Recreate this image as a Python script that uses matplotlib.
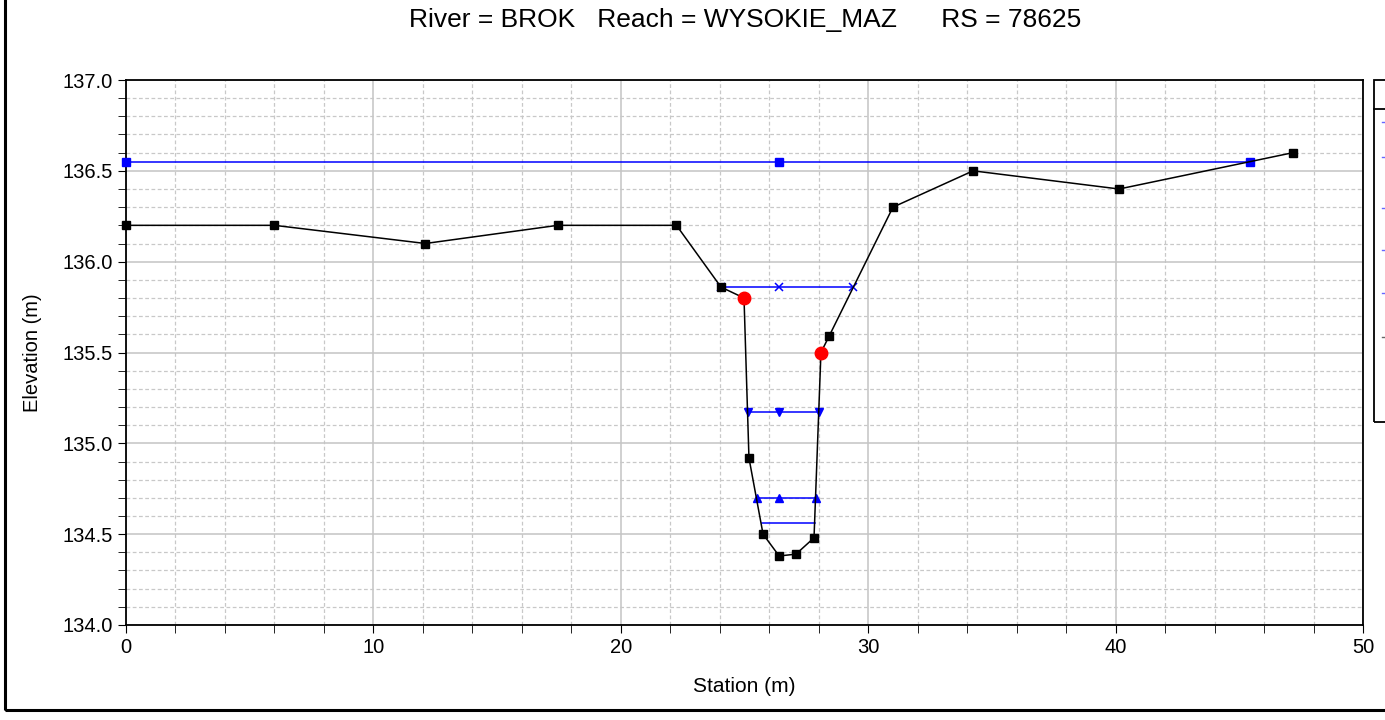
import matplotlib
matplotlib.use("Agg")
import matplotlib.pyplot as plt
from matplotlib.ticker import MultipleLocator, FormatStrFormatter
from matplotlib.patches import Rectangle
from matplotlib.lines import Line2D

plt.rcParams['font.family'] = ['Liberation Sans', 'DejaVu Sans']

# ground profile (station, elevation)
ground_x = [0.0, 6.0, 12.1, 17.45, 22.25, 24.05, 24.98, 25.18, 25.75, 26.4, 27.08, 27.81,
            28.09, 28.42, 31.0, 34.24, 40.14, 47.17]
ground_y = [136.20, 136.20, 136.10, 136.20, 136.20, 135.86, 135.80, 134.92, 134.50, 134.38,
            134.39, 134.48, 135.50, 135.59, 136.30, 136.50, 136.40, 136.60]

# bank stations
bank_x = [24.98, 28.09]
bank_y = [135.80, 135.50]

# water surfaces
ws1_x = [0.0, 26.4, 45.43]
ws1_y = [136.55, 136.55, 136.55]
ws2_x = [24.05, 26.4, 29.39]
ws2_y = [135.86, 135.86, 135.86]
ws3_x = [25.14, 26.4, 28.01]
ws3_y = [135.17, 135.17, 135.17]
ws4_x = [25.5, 26.4, 27.89]
ws4_y = [134.70, 134.70, 134.70]
ws5_x = [25.7, 27.85]
ws5_y = [134.56, 134.56]

title = "River = BROK   Reach = WYSOKIE_MAZ      RS = 78625"

W, H = 1385, 720
fig = plt.figure(figsize=(W / 100, H / 100), dpi=100)

# outer frame
fig.patches.append(Rectangle((5 / W, 10 / H), 1.2, 1.2, transform=fig.transFigure,
                             fill=False, edgecolor='black', linewidth=2.2))

ax = fig.add_axes([126 / W, 95 / H, 1237 / W, 545 / H])

blue = '#0000ff'
ax.plot(ws1_x, ws1_y, color=blue, lw=1.1, marker='s', ms=6, zorder=3, clip_on=False)
ax.plot(ws2_x, ws2_y, color=blue, lw=1.1, marker='x', ms=6, mew=1.1, zorder=3)
ax.plot(ws3_x, ws3_y, color=blue, lw=1.1, marker='v', ms=6, zorder=3)
ax.plot(ws4_x, ws4_y, color=blue, lw=1.1, marker='^', ms=6, zorder=3)
ax.plot(ws5_x, ws5_y, color=blue, lw=1.1, zorder=3)
ax.plot(ground_x, ground_y, color='black', lw=1.1, zorder=4)
ax.plot(ground_x[:6] + ground_x[7:12] + ground_x[13:], ground_y[:6] + ground_y[7:12] + ground_y[13:],
        ls='none', marker='s', ms=6, color='black', zorder=4, clip_on=False)
ax.plot(bank_x, bank_y, ls='none', marker='o', ms=9, color='#ff0000', zorder=5)

ax.set_xlim(0, 50)
ax.set_ylim(134.0, 137.0)
ax.xaxis.set_major_locator(MultipleLocator(10))
ax.xaxis.set_minor_locator(MultipleLocator(2))
ax.yaxis.set_major_locator(MultipleLocator(0.5))
ax.yaxis.set_minor_locator(MultipleLocator(0.1))
ax.yaxis.set_major_formatter(FormatStrFormatter('%.1f'))
ax.grid(which='major', color='#c4c4c4', lw=1.1, ls='-')
ax.grid(which='minor', color='#c8c8c8', lw=0.9, ls=(0, (3, 2)))
ax.set_axisbelow(True)
ax.tick_params(which='both', direction='out', labelsize=14.5, color='black', length=6)
for s in ax.spines.values():
    s.set_linewidth(1.3)

ax.set_xlabel('Station (m)', fontsize=15, labelpad=14)
ax.set_ylabel('Elevation (m)', fontsize=14.5, labelpad=15)
fig.text(745 / W, 1 - 20 / H, title, ha='center', va='center', fontsize=19)

# legend box, mostly beyond the right edge of the picture
fig.patches.append(Rectangle((1374 / W, 1 - 422 / H), 0.05, 342 / H, transform=fig.transFigure,
                             fill=False, edgecolor='black', linewidth=1.3))
fig.lines.append(Line2D([1374 / W, 1.0], [1 - 109 / H] * 2, transform=fig.transFigure,
                        color='black', lw=1.3))
leg_rows = [122, 157, 208, 250, 293, 337]
leg_cols = [blue, blue, blue, blue, blue, 'black']
for yy, cc in zip(leg_rows, leg_cols):
    fig.lines.append(Line2D([1382 / W, 1.0], [1 - yy / H] * 2, transform=fig.transFigure,
                            color=cc, lw=1.0, alpha=0.6))

fig.savefig('out.png', dpi=100)
